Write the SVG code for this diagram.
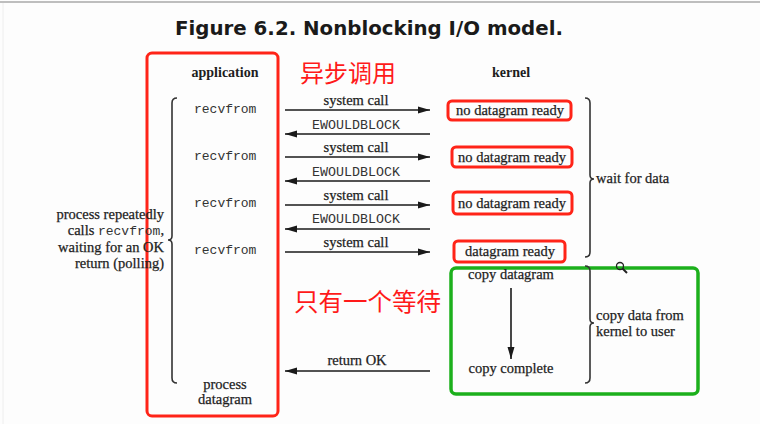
<svg xmlns="http://www.w3.org/2000/svg" width="760" height="424" viewBox="0 0 760 424">
<defs>
<marker id="ah" markerWidth="12" markerHeight="8" refX="12" refY="4" orient="auto" markerUnits="userSpaceOnUse">
<path d="M0,0.5 L12,4 L0,7.5 Z" fill="#1a1a1a"/>
</marker>
<style>
.t{font-family:"Liberation Serif","DejaVu Serif",serif;font-size:14.5px;fill:#1e1e1e;stroke:#1e1e1e;stroke-width:0.25px;}
.b{font-weight:bold;font-size:14px;stroke-width:0;}
.m{font-family:"Liberation Mono","DejaVu Sans Mono",monospace;font-size:13px;fill:#333;}
.cn{font-family:"Noto Sans CJK SC",sans-serif;fill:#ff1a1a;}
.red{fill:none;stroke:#ff2418;stroke-width:3;}
.grn{fill:none;stroke:#1cb01c;stroke-width:3.5;}
.br{fill:none;stroke:#333;stroke-width:1.6;}
.ar{stroke:#1a1a1a;stroke-width:1.6;fill:none;marker-end:url(#ah);}
</style>
</defs>
<rect width="760" height="424" fill="#fdfdfd"/>
<line x1="0" y1="2" x2="760" y2="2" stroke="#a8a8a8" stroke-width="1.5"/>
<line x1="3" y1="3" x2="3" y2="424" stroke="#eeeeee" stroke-width="1"/>

<text id="title" x="175" y="35" font-family="'DejaVu Sans',Verdana,sans-serif" font-weight="bold" font-size="19" fill="#1a1a1a" textLength="388" lengthAdjust="spacingAndGlyphs">Figure 6.2. Nonblocking I/O model.</text>

<g id="application">
<rect class="red" x="147" y="53" width="131" height="363" rx="5"/>
<text class="t b" x="225" y="77" text-anchor="middle">application</text>
<text class="m" x="194" y="113">recvfrom</text>
<text class="m" x="194" y="160">recvfrom</text>
<text class="m" x="194" y="207">recvfrom</text>
<text class="m" x="194" y="254">recvfrom</text>
<path class="br" d="M177,98 Q172,98 172,103 L172,236 Q172,240 168,240 Q172,240 172,244 L172,378 Q172,383 177,383"/>
<text class="t" x="225" y="389" text-anchor="middle">process</text>
<text class="t" x="225" y="404" text-anchor="middle">datagram</text>
</g>

<g id="polling-note">
<text class="t" text-anchor="end" x="164" y="219">process repeatedly</text>
<text class="t" text-anchor="end" x="164" y="235">calls <tspan class="m" style="font-size:13px;stroke-width:0">recvfrom</tspan>,</text>
<text class="t" text-anchor="end" x="164" y="252">waiting for an OK</text>
<text class="t" text-anchor="end" x="164" y="268">return (polling)</text>
</g>

<g id="kernel">
<text class="t b" x="511" y="77" text-anchor="middle">kernel</text>
</g>
<g id="k1">
<rect class="red" x="448" y="101" width="123" height="19" rx="4"/>
<text class="t" x="510" y="114.5" text-anchor="middle">no datagram ready</text>
</g>
<g id="k2">
<rect class="red" x="452" y="147" width="120" height="20" rx="4"/>
<text class="t" x="512" y="161.5" text-anchor="middle">no datagram ready</text>
</g>
<g id="k3">
<rect class="red" x="453" y="192" width="119" height="22" rx="4"/>
<text class="t" x="512" y="208" text-anchor="middle">no datagram ready</text>
</g>
<g id="k4">
<rect class="red" x="454" y="241" width="111" height="21" rx="4"/>
<text class="t" x="510" y="256" text-anchor="middle">datagram ready</text>
</g>

<g id="copy">
<rect class="grn" x="451" y="268" width="247" height="126" rx="5"/>
<text class="t" x="511" y="279" text-anchor="middle">copy datagram</text>
<text class="t" x="511" y="373" text-anchor="middle">copy complete</text>
</g>

<g id="wait-note">
<path class="br" d="M585,98 Q590,98 590,103 L590,175 Q590,179 594,179 Q590,179 590,183 L590,252 Q590,257 585,257"/>
<text class="t" x="596" y="183">wait for data</text>
</g>
<g id="copy-note">
<path class="br" d="M585,266 Q590,266 590,271 L590,319 Q590,323 594,323 Q590,323 590,327 L590,378 Q590,383 585,383"/>
<text class="t" x="596" y="320">copy data from</text>
<text class="t" x="596" y="336">kernel to user</text>
</g>

<g id="connectors">
<line class="ar" x1="285" y1="110" x2="430" y2="110"/>
<text class="t" x="356" y="105" text-anchor="middle">system call</text>
<line class="ar" x1="430" y1="134" x2="285" y2="134"/>
<text class="m" x="356" y="129" text-anchor="middle" style="font-size:13.3px">EWOULDBLOCK</text>
<line class="ar" x1="285" y1="157" x2="430" y2="157"/>
<text class="t" x="356" y="152" text-anchor="middle">system call</text>
<line class="ar" x1="430" y1="181" x2="285" y2="181"/>
<text class="m" x="356" y="176" text-anchor="middle" style="font-size:13.3px">EWOULDBLOCK</text>
<line class="ar" x1="285" y1="205" x2="430" y2="205"/>
<text class="t" x="356" y="200" text-anchor="middle">system call</text>
<line class="ar" x1="430" y1="229" x2="285" y2="229"/>
<text class="m" x="356" y="223" text-anchor="middle" style="font-size:13.3px">EWOULDBLOCK</text>
<line class="ar" x1="285" y1="252" x2="430" y2="252"/>
<text class="t" x="356" y="247" text-anchor="middle">system call</text>
<line class="ar" x1="430" y1="371" x2="285" y2="371"/>
<text class="t" x="357" y="365" text-anchor="middle">return OK</text>
<line class="ar" x1="511" y1="288" x2="511" y2="359"/>
</g>

<text class="cn" x="300" y="82" font-size="24">异步调用</text>
<text class="cn" x="294" y="311" font-size="24.5">只有一个等待</text>

<g id="cursor">
<circle cx="620" cy="266" r="3.5" fill="none" stroke="#222" stroke-width="1.3"/>
<line x1="622.5" y1="268.5" x2="627" y2="273" stroke="#222" stroke-width="2"/>
</g>
</svg>
